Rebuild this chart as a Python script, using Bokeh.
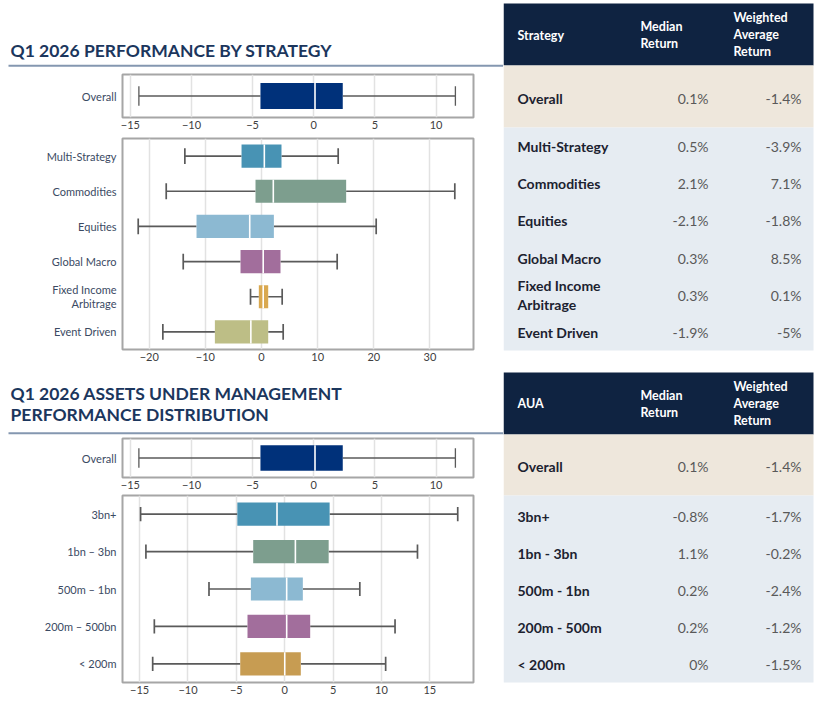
from bokeh.plotting import figure
from bokeh.layouts import row, column
from bokeh.models import Range1d, FixedTicker, ColumnDataSource
from bokeh.core.properties import value
from bokeh.embed import file_html
from bokeh.resources import INLINE

FONT = "Lato"
NAVY = "#1b365d"
LEFT_W = 503
RIGHT_W = 317

# ---- data -------------------------------------------------------------
overall_low = -14.3
overall_q1 = -4.36
overall_median = 0.1
overall_q3 = 2.37
overall_high = 11.58
overall_wavg = -1.4

strategies = ["Multi-Strategy", "Commodities", "Equities", "Global Macro",
              "Fixed Income Arbitrage", "Event Driven"]
strategy_axis_labels = [["Multi-Strategy"], ["Commodities"], ["Equities"], ["Global Macro"],
                        ["Fixed Income", "Arbitrage"], ["Event Driven"]]
strategy_table_labels = ["Multi-Strategy", "Commodities", "Equities", "Global Macro",
                         "Fixed Income\nArbitrage", "Event Driven"]
strat_low = [-13.66, -16.98, -21.97, -13.95, -1.96, -17.58]
strat_q1 = [-3.56, -1.07, -11.58, -3.74, -0.48, -8.31]
strat_median = [0.5, 2.1, -2.1, 0.3, 0.3, -1.9]
strat_q3 = [3.56, 15.08, 2.2, 3.38, 1.19, 1.19]
strat_high = [13.66, 34.44, 20.43, 13.48, 3.68, 3.86]
strat_wavg = [-3.9, 7.1, -1.8, 8.5, 0.1, -5.0]
strat_colors = ["#4893b4", "#7d9e8e", "#8cb9d2", "#a26e9c", "#d9a850", "#bdbe86"]

aua_bands = ["3bn+", "1bn \u2013 3bn", "500m \u2013 1bn", "200m \u2013 500bn", "< 200m"]
aua_table_labels = ["3bn+", "1bn - 3bn", "500m - 1bn", "200m - 500m", "< 200m"]
aua_low = [-14.9, -14.35, -7.83, -13.48, -13.65]
aua_q1 = [-4.9, -3.26, -3.5, -3.85, -4.6]
aua_median = [-0.8, 1.1, 0.2, 0.2, 0.0]
aua_q3 = [4.64, 4.54, 1.87, 2.63, 1.66]
aua_high = [17.88, 13.72, 7.76, 11.4, 10.43]
aua_wavg = [-1.7, -0.2, -2.4, -1.2, -1.5]
aua_colors = ["#4893b4", "#7d9e8e", "#8cb9d2", "#a26e9c", "#c79c52"]

overall_color = "#00317a"
overall_ticks = [-15, -10, -5, 0, 5, 10]
strategy_ticks = [-20, -10, 0, 10, 20, 30]
aua_ticks = [-15, -10, -5, 0, 5, 10, 15]


def pct(v):
    return f"{v:g}%"


def canvas(w, h):
    p = figure(width=w, height=h, x_range=Range1d(0, w), y_range=Range1d(h, 0),
               output_backend="svg", toolbar_location=None, min_border=0)
    p.xaxis.visible = False
    p.yaxis.visible = False
    p.grid.visible = False
    p.outline_line_color = None
    return p


def box_fig(labels, low, q1, med, q3, high, colors, xr, ticks, height, top, bottom,
            box_h, cap_h, whisker_w):
    # rows are stacked top-down on a row-index scale (first row at the top)
    n = len(labels)
    p = figure(width=LEFT_W, height=height, x_range=Range1d(*xr),
               y_range=Range1d(0, n), output_backend="svg", toolbar_location=None,
               min_border_left=122, min_border_right=30,
               min_border_top=top, min_border_bottom=bottom)
    centres = [n - i - 0.5 for i in range(n)]
    src = ColumnDataSource(dict(y=centres, low=low, q1=q1, med=med, q3=q3,
                                high=high, color=colors))
    p.outline_line_color = "#a6a6a6"
    p.outline_line_width = 2
    p.ygrid.visible = False
    p.xgrid.grid_line_color = "#e2e2e2"
    p.xgrid.grid_line_width = 1.5

    # category names as tick labels; a long name wraps onto two ticks
    frame_h = height - top - bottom
    line_gap = 14.0 / frame_h * n
    lab_ticks, overrides = [], {}
    for c, parts in zip(centres, labels):
        k = len(parts)
        for j, part in enumerate(parts):
            t = round(c + ((k - 1) / 2 - j) * line_gap, 4)
            lab_ticks.append(t)
            overrides[t] = part
    p.yaxis.ticker = FixedTicker(ticks=lab_ticks)
    p.yaxis.major_label_overrides = overrides
    p.xaxis.ticker = FixedTicker(ticks=ticks)
    for ax in (p.xaxis, p.yaxis):
        ax.axis_line_color = None
        ax.major_tick_line_color = None
        ax.minor_tick_line_color = None
        ax.major_tick_out = 0
        ax.major_label_text_font = FONT
        ax.major_label_text_font_size = "11px"
    p.xaxis.major_label_standoff = 3
    p.xaxis.major_label_text_color = "#404040"
    p.yaxis.major_label_standoff = 6
    p.yaxis.major_label_text_color = "#3b4a63"

    wc = "#5a5a5a"
    p.segment(x0="low", y0="y", x1="q1", y1="y", source=src,
              line_color=wc, line_width=whisker_w)
    p.segment(x0="q3", y0="y", x1="high", y1="y", source=src,
              line_color=wc, line_width=whisker_w)
    p.rect(x="low", y="y", width=whisker_w, width_units="screen", height=cap_h,
           source=src, fill_color=wc, line_color=None)
    p.rect(x="high", y="y", width=whisker_w, width_units="screen", height=cap_h,
           source=src, fill_color=wc, line_color=None)
    p.hbar(y="y", left="q1", right="q3", height=box_h, source=src,
           fill_color="color", line_color=None)
    p.rect(x="med", y="y", width=1.6, width_units="screen", height=box_h,
           source=src, fill_color="white", line_color=None)
    return p


def title_fig(lines, baselines, rule_y):
    p = canvas(LEFT_W, 70)
    for txt, y in zip(lines, baselines):
        p.text(x=[10], y=[y], text=[txt], text_font=value(FONT), text_font_style="bold",
               text_font_size="17.5px", text_color=NAVY, text_baseline="alphabetic")
    p.segment(x0=[8], y0=[rule_y], x1=[LEFT_W], y1=[rule_y],
              line_color="#8497b0", line_width=2)
    return p


def table_fig(height, head, body, head_label, head_ys, row_labels, row_ys,
              meds, wavgs):
    p = canvas(RIGHT_W, height)
    (h_top, h_bot), (o_bot, b_bot) = head, body
    p.quad(left=[0], right=[310], top=[h_top], bottom=[h_bot],
           fill_color="#0f2341", line_color=None)
    p.quad(left=[0], right=[310], top=[h_bot], bottom=[o_bot],
           fill_color="#eee7dc", line_color=None)
    p.quad(left=[0], right=[310], top=[o_bot], bottom=[b_bot],
           fill_color="#e6ecf2", line_color=None)
    hs = dict(text_font=value(FONT), text_font_style="bold", text_font_size="12.5px",
              text_color="white", text_baseline="middle", text_line_height=1.15)
    p.text(x=[14], y=[head_ys[0]], text=[head_label], **hs)
    p.text(x=[137], y=[head_ys[1]], text=["Median\nReturn"], **hs)
    p.text(x=[230], y=[head_ys[2]], text=["Weighted\nAverage\nReturn"], **hs)

    src = ColumnDataSource(dict(label=row_labels, y=row_ys,
                                med=[pct(v) for v in meds],
                                wavg=[pct(v) for v in wavgs]))
    p.text(x=14, y="y", text="label", source=src, text_font=value(FONT),
           text_font_style="bold", text_font_size="14px", text_color="#1c2230",
           text_baseline="middle", text_line_height=1.1)
    vs = dict(source=src, text_font=value(FONT), text_font_size="14px",
              text_color="#595959", text_baseline="middle", text_align="right")
    p.text(x=205, y="y", text="med", **vs)
    p.text(x=298, y="y", text="wavg", **vs)
    return p


# ---- left column: titles and box plots --------------------------------
t1 = title_fig(["Q1 2026 PERFORMANCE BY STRATEGY"], [50], 65.3)
o1 = box_fig([["Overall"]], [overall_low], [overall_q1], [overall_median],
             [overall_q3], [overall_high], [overall_color], (-15.64, 13.06),
             overall_ticks, 67, 4, 20, 0.6, 0.45, 1.3)
s1 = box_fig(strategy_axis_labels, strat_low, strat_q1, strat_median,
             strat_q3, strat_high, strat_colors, (-24.77, 37.77), strategy_ticks,
             230, 1, 18, 0.66, 0.45, 1.7)
t2 = title_fig(["Q1 2026 ASSETS UNDER MANAGEMENT", "PERFORMANCE DISTRIBUTION"],
               [26, 47], 65.7)
o2 = box_fig([["Overall"]], [overall_low], [overall_q1], [overall_median],
             [overall_q3], [overall_high], [overall_color], (-15.64, 13.06),
             overall_ticks, 57, 1, 17, 0.66, 0.5, 1.3)
a1 = box_fig([[b] for b in aua_bands], aua_low, aua_q1, aua_median, aua_q3,
             aua_high, aua_colors, (-16.77, 19.51), aua_ticks, 211, 1, 23, 0.62, 0.38, 1.7)

# ---- right column: summary tables --------------------------------------
strat_rows = [146 + 37.2 * i for i in range(len(strategies))]
tab1 = table_fig(360, (3, 65), (127, 350), "Strategy", (35, 34.5, 34),
                 ["Overall"] + strategy_table_labels, [98] + strat_rows,
                 [overall_median] + strat_median, [overall_wavg] + strat_wavg)
aua_rows = [156 + 37 * i for i in range(len(aua_bands))]
tab2 = table_fig(345, (12, 74), (135, 322), "AUA", (43, 43.5, 43),
                 ["Overall"] + aua_table_labels, [106] + aua_rows,
                 [overall_median] + aua_median, [overall_wavg] + aua_wavg)

left = column(row(t1), o1, s1, row(t2), o2, a1)
layout = row(left, column(tab1, tab2))
open("out.html", "w").write(file_html(layout, INLINE))
